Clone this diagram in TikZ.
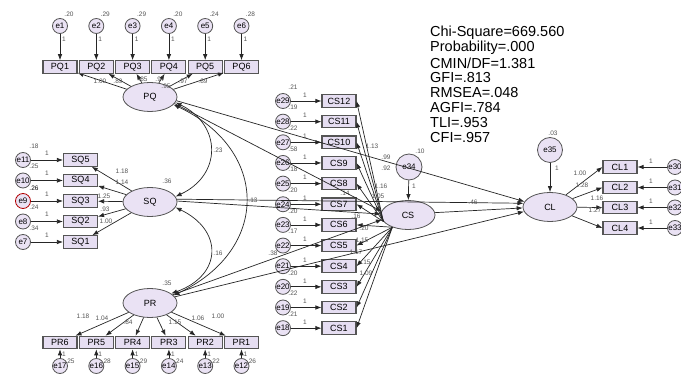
\documentclass[tikz,border=0pt]{standalone}
\usepackage{fontspec}
\setmainfont{Liberation Sans}
\usetikzlibrary{arrows.meta,shapes.geometric}
\definecolor{boxfill}{RGB}{230,222,242}
\definecolor{ellfill}{RGB}{234,226,244}
\definecolor{edgec}{RGB}{85,85,85}
\definecolor{numc}{RGB}{85,85,85}
\tikzset{
 obs/.style={draw=edgec, line width=1.1pt, fill=boxfill, minimum width=34pt, minimum height=12.5pt, inner sep=0pt, font=\fontsize{9}{9}\selectfont},
 lat/.style={ellipse, draw=edgec, line width=0.8pt, fill=ellfill, minimum width=54pt, minimum height=29pt, inner sep=0pt, font=\fontsize{9}{9}\selectfont},
 err/.style={circle, draw=edgec, line width=0.8pt, fill=ellfill, minimum size=15pt, inner sep=0pt, font=\fontsize{8}{8}\selectfont},
 bigerr/.style={err, minimum size=25pt},
 num/.style={font=\fontsize{6.5}{6.5}\selectfont, text=numc, inner sep=0pt},
 arr/.style={-{Latex[length=6pt,width=4.5pt]}, line width=0.7pt, draw=black!85},
 dbl/.style={{Latex[length=6pt,width=4.5pt]}-{Latex[length=6pt,width=4.5pt]}, line width=0.7pt, draw=black!85},
 stat/.style={font=\fontsize{14.5}{14.5}\selectfont, anchor=west, inner sep=0pt},
}
\begin{document}
\begin{tikzpicture}[x=1pt,y=-1pt]
\useasboundingbox[fill=white] (0,0) rectangle (681,382);

% ---------- latent variables ----------
\node[lat] (PQ) at (150,97) {PQ};
\node[lat] (SQ) at (150,202) {SQ};
\node[lat] (PR) at (150,303) {PR};
\node[lat] (CS) at (408,215) {CS};
\node[lat] (CL) at (550,207) {CL};
\node[bigerr, minimum size=26pt] (e34) at (409,167) {e34};
\node[bigerr] (e35) at (550,150) {e35};
\node[num] at (420,151) {.10};
\node[num] at (414,186) {1};
\node[num] at (553,133) {.03};
\node[num] at (557,168) {1};
\node[num] at (167,181) {.36};
\node[num] at (167,283) {.35};

% ---------- PQ indicators ----------
\foreach \i/\v in {1/.20,2/.29,3/.29,4/.20,5/.24,6/.28}{
  \pgfmathsetmacro\xx{60+(\i-1)*36.3}
  \node[obs] (PQ\i) at (\xx,67) {PQ\i};
  \node[err] (e\i) at (\xx,26) {e\i};
  \node[num] at (\xx+9,14) {\v};
  \node[num] at (\xx+4,39) {1};
  \draw[arr] (e\i) -- (PQ\i);
  \draw[arr] (PQ) -- (PQ\i);
}
\node[num] at (100,81) {1.00};
\node[num] at (118,81) {.89};
\node[num] at (143,79) {.85};
\node[num] at (160,79) {.97};
\node[num] at (166,86) {.95};
\node[num] at (183,81) {.97};
\node[num] at (203,81) {.89};

% ---------- SQ indicators ----------
\foreach \k/\y/\v in {5/160/.18,4/180.5/.25,3/201/.26,2/221.5/.24,1/242/.34}{
  \pgfmathtruncatemacro\ee{6+\k}
  \node[obs] (SQ\k) at (80.5,\y) {SQ\k};
  \ifnum\ee=9
    \node[err, draw=red!70!black] (e\ee) at (23,\y) {e\ee};
    \node[num, text=black] at (34,\y-13) {\v};
  \else
    \node[err] (e\ee) at (23,\y) {e\ee};
    \node[num] at (34,\y-14) {\v};
  \fi
  \node[num] at (47,\y-7) {1};
  \draw[arr] (e\ee) -- (SQ\k);
  \draw[arr] (SQ) -- (SQ\k);
}
\node[num] at (122,171) {1.18};
\node[num] at (122,182) {1.14};
\node[num] at (104,196) {1.25};
\node[num] at (105,209) {.93};
\node[num] at (106,221) {1.00};

% ---------- PR indicators ----------
\foreach \j/\v in {1/.26,2/.22,3/.24,4/.29,5/.28,6/.25}{
  \pgfmathsetmacro\xx{60+(6-\j)*36.3}
  \pgfmathtruncatemacro\ee{11+\j}
  \node[obs] (PR\j) at (\xx,342.5) {PR\j};
  \node[err] (e\ee) at (\xx,366) {e\ee};
  \node[num] at (\xx+10,361) {\v};
  \node[num] at (\xx+4,354) {1};
  \draw[arr] (e\ee) -- (PR\j);
  \draw[arr] (PR) -- (PR\j);
}
\node[num] at (83,316) {1.18};
\node[num] at (102,318) {1.04};
\node[num] at (128,322) {.84};
\node[num] at (175,322) {1.15};
\node[num] at (198,318) {1.06};
\node[num] at (218,316) {1.00};

% ---------- covariances ----------
\draw[dbl] (PQ.-12) .. controls (222,125) and (222,175) .. (SQ.12);
\draw[dbl] (PQ.-18) .. controls (270,150) and (270,250) .. (PR.18);
\draw[dbl] (SQ.-12) .. controls (223,230) and (223,275) .. (PR.24);
\node[num] at (218,150) {.23};
\node[num] at (218,253) {.16};

% ---------- CS indicators ----------
\foreach \k/\v in {12/.21,11/.19,10/.22,9/.58,8/.18,7/.20,6/.20,5/.17,3/.20,2/.22,1/.21}{
  \node[num] at (293,{101+(12-\k)*20.65-14}) {\v};
}
\node[num] at (273,253) {.38};
\foreach \k in {12,11,...,1}{
  \pgfmathsetmacro\yy{101+(12-\k)*20.65}
  \pgfmathtruncatemacro\ee{17+\k}
  \node[obs] (CS\k) at (339,\yy) {CS\k};
  \node[err] (e\ee) at (283,\yy) {e\ee};
  \node[num] at (305,\yy-6) {1};
  \draw[arr] (e\ee) -- (CS\k);
}
\foreach \k in {12,11,...,7}{ \draw[arr] (CS.195) -- (CS\k.east); }
\foreach \k in {6,5,...,1}{ \draw[arr] (CS.218) -- (CS\k.east); }
\node[num] at (372,146) {1.13};
\node[num] at (386,157) {.99};
\node[num] at (386,168) {.92};
\node[num] at (381,186) {1.16};
\node[num] at (378,196) {1.05};
\node[num] at (345,193) {.14};
\node[num] at (356,216) {.16};
\node[num] at (364,228) {.20};
\node[num] at (362,240) {1.15};
\node[num] at (356,252) {1.17};
\node[num] at (366,262) {.15};
\node[num] at (366,273) {1.09};

% ---------- CL indicators ----------
\foreach \k/\y in {1/167,2/187.5,3/207.5,4/228}{
  \pgfmathtruncatemacro\ee{29+\k}
  \node[obs] (CL\k) at (620,\y) {CL\k};
  \node[err] (e\ee) at (675,\y) {e\ee};
  \node[num] at (651,\y-6) {1};
  \draw[arr] (e\ee) -- (CL\k);
  \draw[arr] (CL) -- (CL\k.west);
}
\node[num] at (580,173) {1.00};
\node[num] at (582,185) {1.28};
\node[num] at (597,198) {1.16};
\node[num] at (595,210) {1.27};

% ---------- structural paths ----------
\draw[arr] (e34) -- (CS);
\draw[arr] (e35) -- (CL);
\draw[arr] (PQ.-15) -- (CS.172);
\draw[arr] (PQ.-8) -- (CL.168);
\draw[arr] (SQ.2) -- (CS.178);
\draw[arr] (SQ.6) -- (CL.172);
\draw[arr] (PR.20) -- (CS.190);
\draw[arr] (PR.14) -- (CL.190);
\draw[arr] (CS.5) -- (CL.182);
\node[num] at (253,200) {.13};
\node[num] at (473,202) {.46};

% ---------- fit statistics ----------
\node[stat] (s1) at (430,33) {Chi-Square=669.560};
\node[stat] (s2) at (430,48) {Probability=.000};
\node[stat] (s3) at (430,63) {CMIN/DF=1.381};
\node[stat] (s4) at (430,78) {GFI=.813};
\node[stat] (s5) at (430,93) {RMSEA=.048};
\node[stat] (s6) at (430,108) {AGFI=.784};
\node[stat] (s7) at (430,123) {TLI=.953};
\node[stat] (s8) at (430,138) {CFI=.957};
\end{tikzpicture}
\end{document}
